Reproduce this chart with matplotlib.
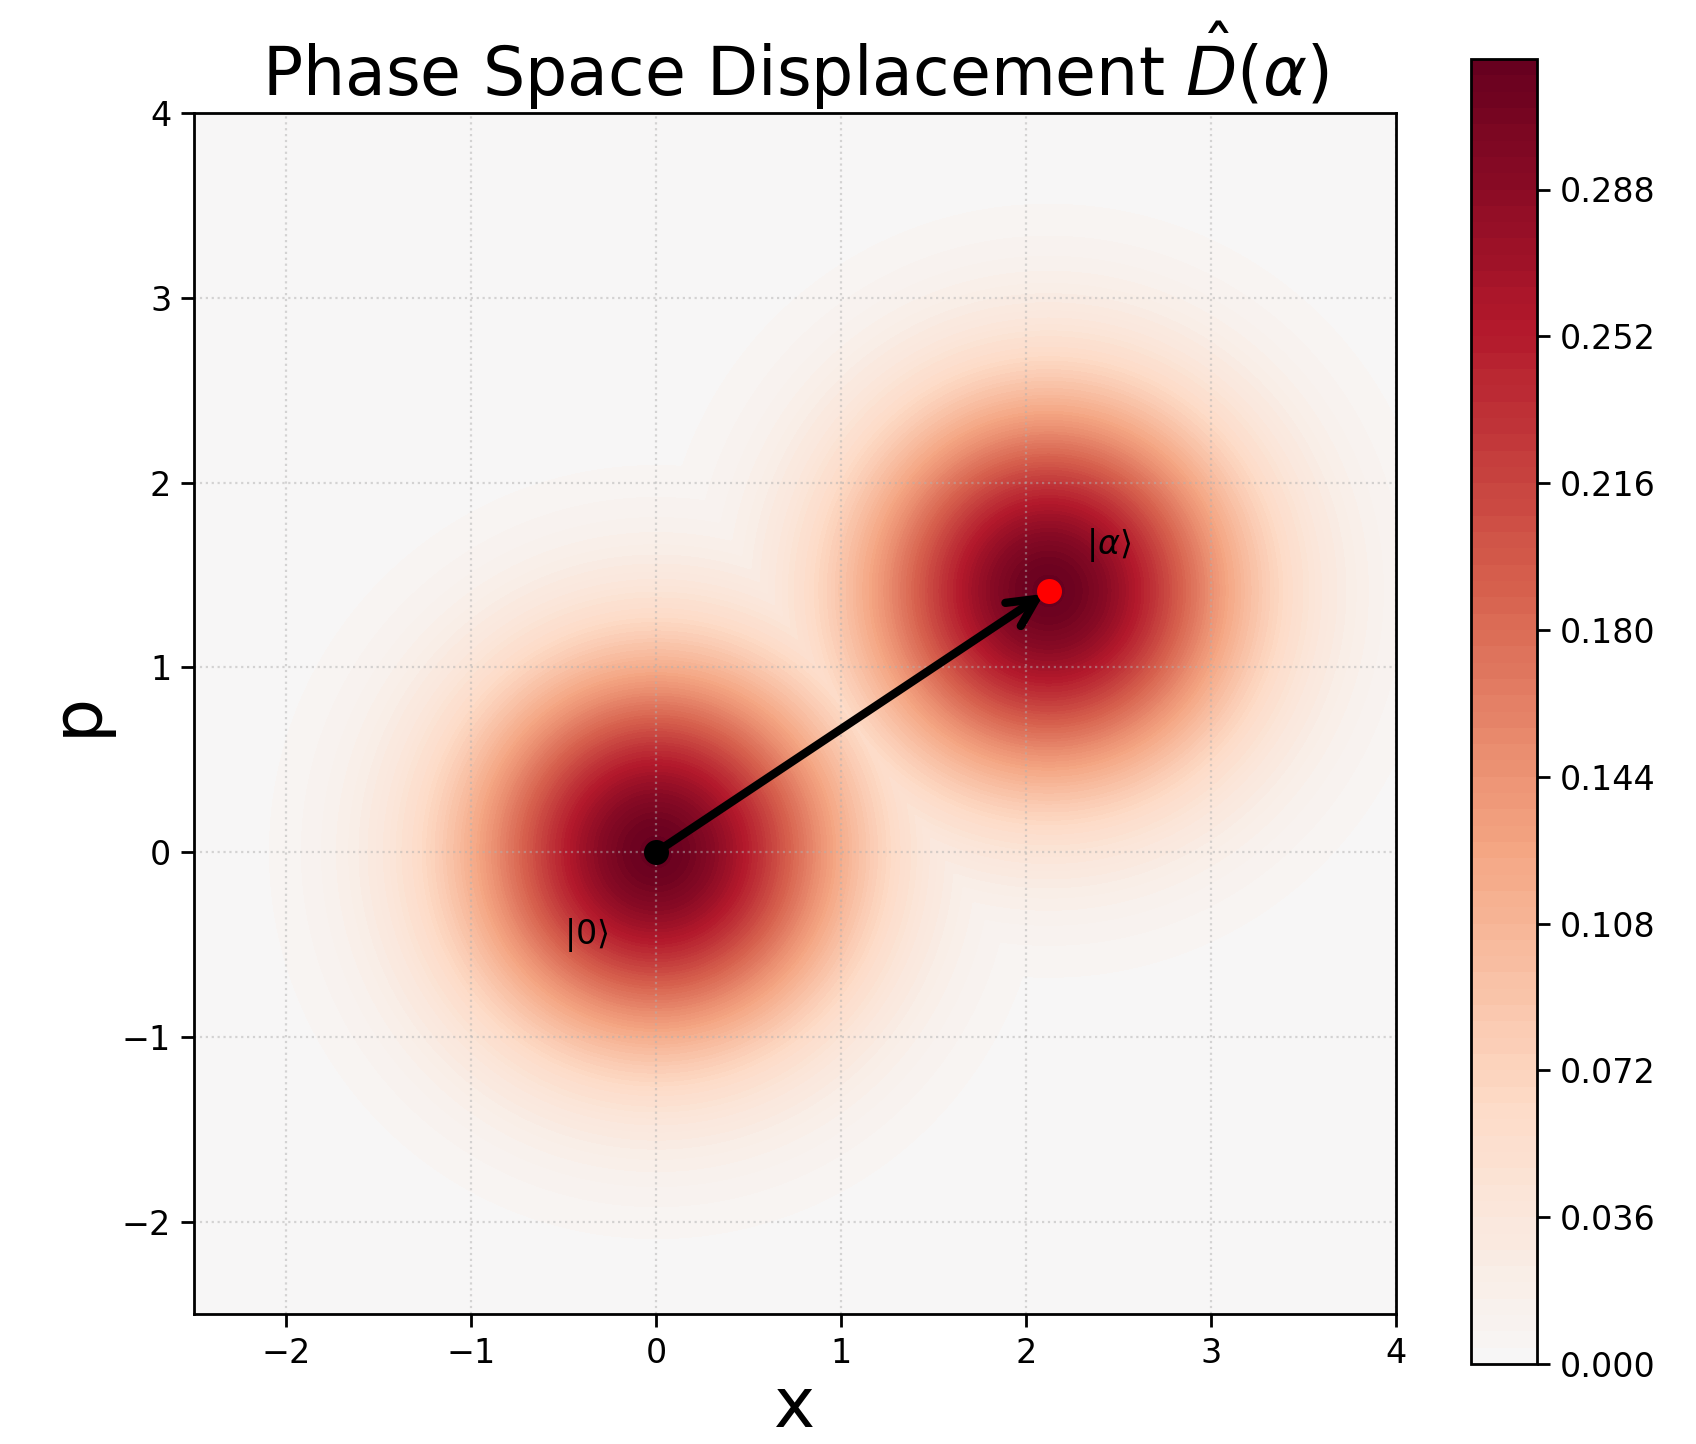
import numpy as np
import matplotlib
matplotlib.use("Agg")
import matplotlib.pyplot as plt

# ---- data ----
x_limits = [-2.5, 4.0]
p_limits = [-2.5, 4.0]
alpha = 1.5 + 1.0j                      # displacement amplitude
vacuum_center = [0.0, 0.0]
alpha_center = [np.sqrt(2) * alpha.real, np.sqrt(2) * alpha.imag]
contour_levels = np.linspace(0.0, 0.32, 81)
label_vacuum = r'$|0\rangle$'
label_alpha = r'$|\alpha\rangle$'
xticks = [-2, -1, 0, 1, 2, 3, 4]
pticks = [-2, -1, 0, 1, 2, 3, 4]

# Wigner functions of vacuum and coherent state
xg = np.linspace(x_limits[0], x_limits[1], 500)
pg = np.linspace(p_limits[0], p_limits[1], 500)
X, P = np.meshgrid(xg, pg)
W0 = np.exp(-((X - vacuum_center[0])**2 + (P - vacuum_center[1])**2)) / np.pi
Wa = np.exp(-((X - alpha_center[0])**2 + (P - alpha_center[1])**2)) / np.pi
W = np.maximum(W0, Wa)

DPI = 200
fig = plt.figure(figsize=(1696 / DPI, 1444 / DPI), dpi=DPI)
ax = fig.add_axes([194 / 1696, 1 - 1314 / 1444, 1202 / 1696, 1201 / 1444])
cax = fig.add_axes([1471 / 1696, 1 - 1364 / 1444, 66 / 1696, 1305 / 1444])

vmax = contour_levels[-1]
cf = ax.contourf(X, P, W, levels=contour_levels, cmap='RdBu_r', vmin=-vmax, vmax=vmax)
cb = fig.colorbar(cf, cax=cax)
cb.ax.tick_params(labelsize=12, length=4.7, width=1.0)
cb.outline.set_linewidth(1.0)

ax.grid(True, linestyle=':', alpha=0.5, linewidth=0.8)

ax.annotate('', xy=tuple(alpha_center), xytext=tuple(vacuum_center),
            arrowprops=dict(arrowstyle='->', lw=3, color='black', mutation_scale=25))
ax.plot(*vacuum_center, 'o', color='black', markersize=8, zorder=5)
ax.plot(*alpha_center, 'o', color='red', markersize=8, zorder=5)

ax.text(vacuum_center[0] - 0.5, vacuum_center[1] - 0.5, label_vacuum, fontsize=12)
ax.text(alpha_center[0] + 0.2, alpha_center[1] + 0.2, label_alpha, fontsize=12)

ax.set_xlim(x_limits)
ax.set_ylim(p_limits)
ax.set_xticks(xticks)
ax.set_yticks(pticks)
ax.tick_params(labelsize=12, length=4.7, width=1.0)
for s in ax.spines.values():
    s.set_linewidth(1.0)
ax.set_xlabel('x', fontsize=25, labelpad=1.5)
ax.set_ylabel('p', fontsize=25)
ax.set_title(r'Phase Space Displacement $\hat{D}(\alpha)$', fontsize=24)

fig.savefig('out.png', dpi=DPI)
